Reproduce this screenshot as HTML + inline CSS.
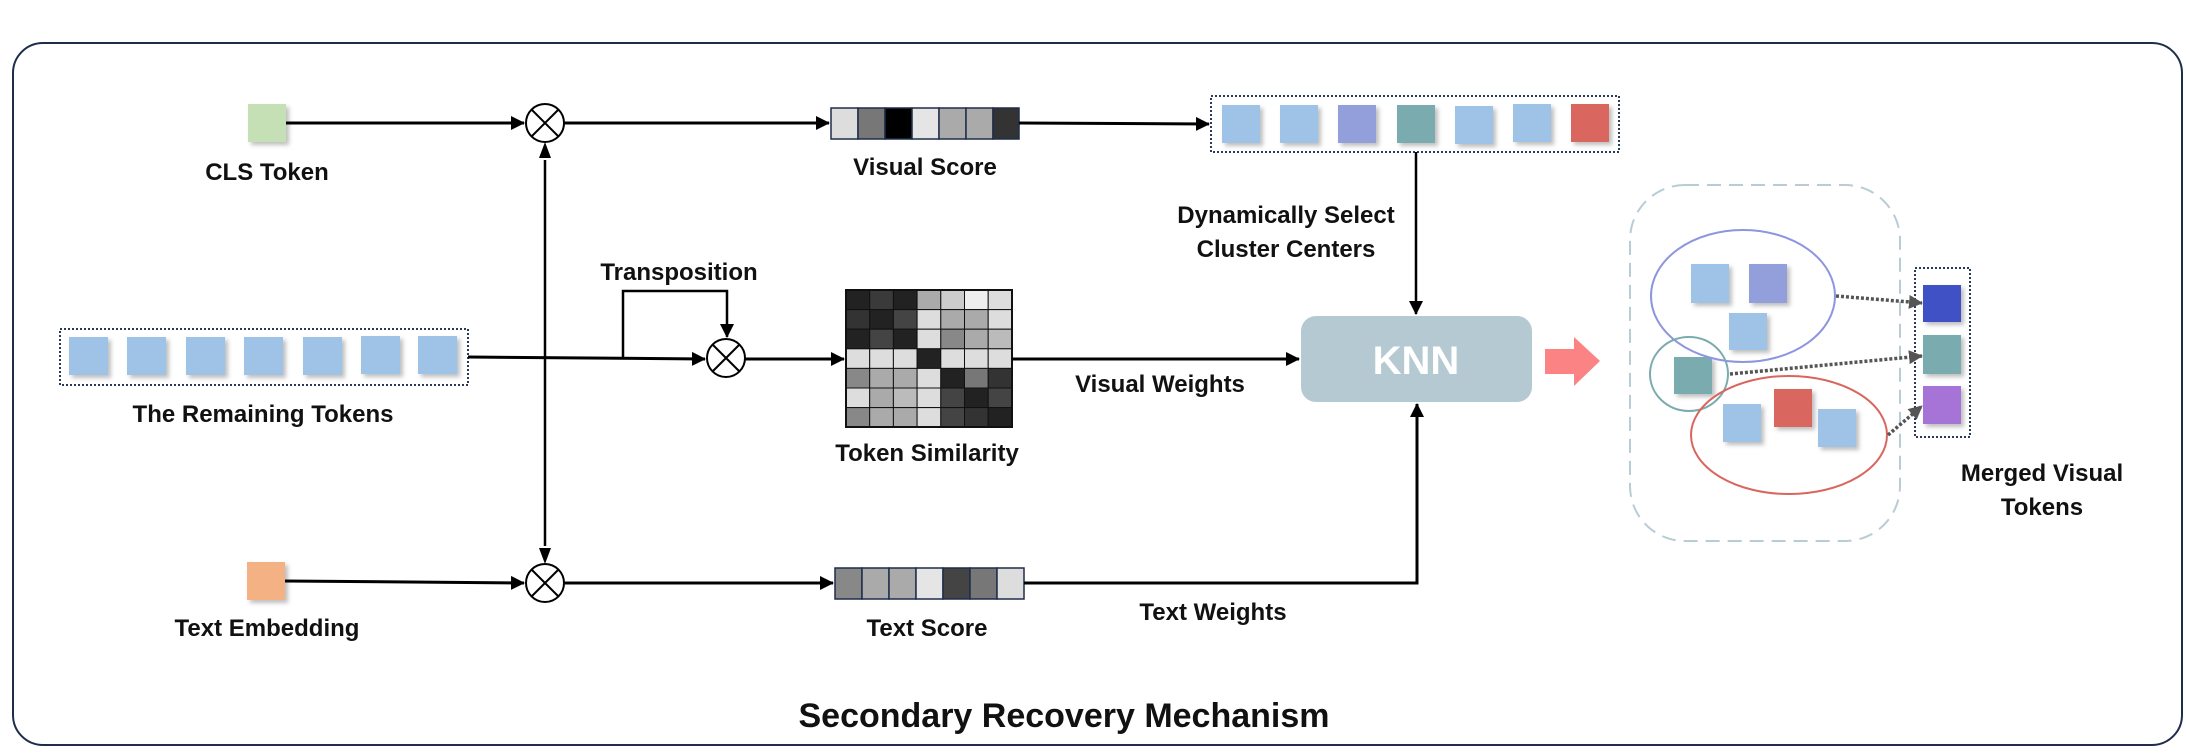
<!DOCTYPE html>
<html><head><meta charset="utf-8"><style>
html,body{margin:0;padding:0;background:#fff;}
svg{display:block;}
text{font-family:"Liberation Sans",sans-serif;font-weight:bold;fill:#111;}
</style></head><body>
<svg width="2186" height="754" viewBox="0 0 2186 754" xmlns="http://www.w3.org/2000/svg">
<defs>
<marker id="ah" markerWidth="10" markerHeight="10" refX="9" refY="5" orient="auto" markerUnits="userSpaceOnUse"><path d="M0,0 L10,5 L0,10 z" fill="#000"/></marker>
<marker id="ahb" markerWidth="14" markerHeight="14" refX="13" refY="7" orient="auto" markerUnits="userSpaceOnUse"><path d="M0,0 L14,7 L0,14 z" fill="#000"/></marker>
<marker id="ahg" markerWidth="14" markerHeight="14" refX="13" refY="7" orient="auto" markerUnits="userSpaceOnUse"><path d="M0,0 L14,7 L0,14 z" fill="#555"/></marker>
<filter id="sh" x="-30%" y="-30%" width="160%" height="160%"><feDropShadow dx="3" dy="3" stdDeviation="2" flood-color="#000" flood-opacity="0.25"/></filter>
</defs>

<rect x="13" y="43" width="2169" height="702" rx="30" fill="#fff" stroke="#1f2d4a" stroke-width="2"/>

<!-- CLS token -->
<rect x="248" y="104" width="38" height="38" fill="#c5e0b4" filter="url(#sh)"/>
<text x="267" y="180" font-size="24" text-anchor="middle">CLS Token</text>
<line x1="286" y1="123" x2="524" y2="123" stroke="#000" stroke-width="3" marker-end="url(#ahb)"/>
<!-- top circle -->
<circle cx="545" cy="123" r="19" fill="#fff" stroke="#000" stroke-width="2"/>
<path d="M532,110 L558,136 M558,110 L532,136" stroke="#000" stroke-width="2"/>
<line x1="564" y1="123" x2="829" y2="123" stroke="#000" stroke-width="3" marker-end="url(#ahb)"/>

<!-- vertical double arrow -->
<line x1="545" y1="160" x2="545" y2="546" stroke="#000" stroke-width="2.5"/>
<path d="M545,142 L539,158 L551,158 z M545,564 L539,548 L551,548 z" fill="#000"/>

<!-- visual score -->
<g stroke="#1f2d4a" stroke-width="1.5">
<rect x="831" y="108" width="27" height="31" fill="#dddddd"/>
<rect x="858" y="108" width="27" height="31" fill="#777"/>
<rect x="885" y="108" width="27" height="31" fill="#000"/>
<rect x="912" y="108" width="27" height="31" fill="#e5e5e5"/>
<rect x="939" y="108" width="27" height="31" fill="#aaa"/>
<rect x="966" y="108" width="27" height="31" fill="#aaa"/>
<rect x="993" y="108" width="26" height="31" fill="#333"/>
</g>
<text x="925" y="175" font-size="24" text-anchor="middle">Visual Score</text>
<line x1="1019" y1="123" x2="1209" y2="124" stroke="#000" stroke-width="3" marker-end="url(#ahb)"/>

<!-- selected tokens -->
<rect x="1211" y="96" width="408" height="56" fill="none" stroke="#2a3a5a" stroke-width="2" stroke-dasharray="2,2"/>
<g filter="url(#sh)">
<rect x="1222" y="105" width="38" height="38" fill="#9fc3e6"/>
<rect x="1280" y="105" width="38" height="38" fill="#9fc3e6"/>
<rect x="1338" y="105" width="38" height="38" fill="#939fdb"/>
<rect x="1397" y="105" width="38" height="38" fill="#7aabae"/>
<rect x="1455" y="106" width="38" height="38" fill="#9fc3e6"/>
<rect x="1513" y="104" width="38" height="38" fill="#9fc3e6"/>
<rect x="1571" y="104" width="38" height="38" fill="#d9665e"/>
</g>
<line x1="1416" y1="152" x2="1416" y2="314" stroke="#000" stroke-width="2.5" marker-end="url(#ahb)"/>
<text x="1286" y="223" font-size="24" text-anchor="middle">Dynamically Select</text>
<text x="1286" y="257" font-size="24" text-anchor="middle">Cluster Centers</text>

<!-- remaining tokens -->
<rect x="60" y="329" width="408" height="56" fill="none" stroke="#2a3a5a" stroke-width="2" stroke-dasharray="2,2"/>
<g filter="url(#sh)" fill="#9fc3e6">
<rect x="69" y="337" width="39" height="38"/>
<rect x="127" y="337" width="39" height="38"/>
<rect x="186" y="337" width="39" height="38"/>
<rect x="244" y="337" width="39" height="38"/>
<rect x="303" y="337" width="39" height="38"/>
<rect x="361" y="336" width="39" height="38"/>
<rect x="418" y="336" width="39" height="38"/>
</g>
<text x="263" y="422" font-size="24" text-anchor="middle">The Remaining Tokens</text>
<line x1="468" y1="357" x2="705" y2="359" stroke="#000" stroke-width="3" marker-end="url(#ahb)"/>
<polyline points="623,357 623,291 727,291 727,337" fill="none" stroke="#000" stroke-width="2.5" marker-end="url(#ahb)"/>
<text x="679" y="280" font-size="24" text-anchor="middle">Transposition</text>
<circle cx="726" cy="358" r="19" fill="#fff" stroke="#000" stroke-width="2"/>
<path d="M713,345 L739,371 M739,345 L713,371" stroke="#000" stroke-width="2"/>
<line x1="745" y1="359" x2="844" y2="359" stroke="#000" stroke-width="3" marker-end="url(#ahb)"/>

<!-- similarity matrix -->
<g stroke="#111" stroke-width="1">
<rect x="846" y="290" width="23.7" height="19.6" fill="#222"/><rect x="869.7" y="290" width="23.7" height="19.6" fill="#3a3a3a"/><rect x="893.4" y="290" width="23.7" height="19.6" fill="#222"/><rect x="917.1" y="290" width="23.7" height="19.6" fill="#aaa"/><rect x="940.8" y="290" width="23.7" height="19.6" fill="#ccc"/><rect x="964.5" y="290" width="23.7" height="19.6" fill="#eee"/><rect x="988.2" y="290" width="23.8" height="19.6" fill="#ddd"/>
<rect x="846" y="309.6" width="23.7" height="19.6" fill="#333"/><rect x="869.7" y="309.6" width="23.7" height="19.6" fill="#222"/><rect x="893.4" y="309.6" width="23.7" height="19.6" fill="#444"/><rect x="917.1" y="309.6" width="23.7" height="19.6" fill="#ddd"/><rect x="940.8" y="309.6" width="23.7" height="19.6" fill="#aaa"/><rect x="964.5" y="309.6" width="23.7" height="19.6" fill="#aaa"/><rect x="988.2" y="309.6" width="23.8" height="19.6" fill="#ddd"/>
<rect x="846" y="329.2" width="23.7" height="19.6" fill="#222"/><rect x="869.7" y="329.2" width="23.7" height="19.6" fill="#444"/><rect x="893.4" y="329.2" width="23.7" height="19.6" fill="#222"/><rect x="917.1" y="329.2" width="23.7" height="19.6" fill="#ddd"/><rect x="940.8" y="329.2" width="23.7" height="19.6" fill="#888"/><rect x="964.5" y="329.2" width="23.7" height="19.6" fill="#aaa"/><rect x="988.2" y="329.2" width="23.8" height="19.6" fill="#bbb"/>
<rect x="846" y="348.8" width="23.7" height="19.6" fill="#ddd"/><rect x="869.7" y="348.8" width="23.7" height="19.6" fill="#ddd"/><rect x="893.4" y="348.8" width="23.7" height="19.6" fill="#ddd"/><rect x="917.1" y="348.8" width="23.7" height="19.6" fill="#222"/><rect x="940.8" y="348.8" width="23.7" height="19.6" fill="#ddd"/><rect x="964.5" y="348.8" width="23.7" height="19.6" fill="#ddd"/><rect x="988.2" y="348.8" width="23.8" height="19.6" fill="#ddd"/>
<rect x="846" y="368.4" width="23.7" height="19.6" fill="#888"/><rect x="869.7" y="368.4" width="23.7" height="19.6" fill="#aaa"/><rect x="893.4" y="368.4" width="23.7" height="19.6" fill="#aaa"/><rect x="917.1" y="368.4" width="23.7" height="19.6" fill="#ddd"/><rect x="940.8" y="368.4" width="23.7" height="19.6" fill="#222"/><rect x="964.5" y="368.4" width="23.7" height="19.6" fill="#777"/><rect x="988.2" y="368.4" width="23.8" height="19.6" fill="#333"/>
<rect x="846" y="388" width="23.7" height="19.6" fill="#ddd"/><rect x="869.7" y="388" width="23.7" height="19.6" fill="#aaa"/><rect x="893.4" y="388" width="23.7" height="19.6" fill="#bbb"/><rect x="917.1" y="388" width="23.7" height="19.6" fill="#ddd"/><rect x="940.8" y="388" width="23.7" height="19.6" fill="#444"/><rect x="964.5" y="388" width="23.7" height="19.6" fill="#222"/><rect x="988.2" y="388" width="23.8" height="19.6" fill="#444"/>
<rect x="846" y="407.6" width="23.7" height="19.4" fill="#888"/><rect x="869.7" y="407.6" width="23.7" height="19.4" fill="#aaa"/><rect x="893.4" y="407.6" width="23.7" height="19.4" fill="#aaa"/><rect x="917.1" y="407.6" width="23.7" height="19.4" fill="#ddd"/><rect x="940.8" y="407.6" width="23.7" height="19.4" fill="#444"/><rect x="964.5" y="407.6" width="23.7" height="19.4" fill="#333"/><rect x="988.2" y="407.6" width="23.8" height="19.4" fill="#222"/>
</g>
<rect x="846" y="290" width="166" height="137" fill="none" stroke="#111" stroke-width="2"/>
<text x="927" y="461" font-size="24" text-anchor="middle">Token Similarity</text>
<line x1="1012" y1="359" x2="1299" y2="359" stroke="#000" stroke-width="3" marker-end="url(#ahb)"/>
<text x="1160" y="392" font-size="24" text-anchor="middle">Visual Weights</text>

<!-- KNN -->
<rect x="1301" y="316" width="231" height="86" rx="15" fill="#b4c9d2"/>
<text x="1416" y="374" font-size="40" text-anchor="middle" style="fill:#fff">KNN</text>
<path d="M1545,349 L1574,349 L1574,337 L1600,361 L1574,386 L1574,374 L1545,374 z" fill="#fb8383"/>

<!-- text embedding -->
<rect x="247" y="562" width="38" height="38" fill="#f4b183" filter="url(#sh)"/>
<text x="267" y="636" font-size="24" text-anchor="middle">Text Embedding</text>
<line x1="285" y1="581" x2="524" y2="583" stroke="#000" stroke-width="3" marker-end="url(#ahb)"/>
<circle cx="545" cy="583" r="19" fill="#fff" stroke="#000" stroke-width="2"/>
<path d="M532,570 L558,596 M558,570 L532,596" stroke="#000" stroke-width="2"/>
<line x1="564" y1="583" x2="833" y2="583" stroke="#000" stroke-width="3" marker-end="url(#ahb)"/>
<g stroke="#1f2d4a" stroke-width="1.5">
<rect x="835" y="568" width="27" height="31" fill="#888"/>
<rect x="862" y="568" width="27" height="31" fill="#aaa"/>
<rect x="889" y="568" width="27" height="31" fill="#aaa"/>
<rect x="916" y="568" width="27" height="31" fill="#e5e5e5"/>
<rect x="943" y="568" width="27" height="31" fill="#444"/>
<rect x="970" y="568" width="27" height="31" fill="#777"/>
<rect x="997" y="568" width="27" height="31" fill="#ddd"/>
</g>
<text x="927" y="636" font-size="24" text-anchor="middle">Text Score</text>
<polyline points="1024,583 1417,583 1417,404" fill="none" stroke="#000" stroke-width="3" marker-end="url(#ahb)"/>
<text x="1213" y="620" font-size="24" text-anchor="middle">Text Weights</text>

<!-- cluster region -->
<rect x="1630" y="185" width="270" height="356" rx="55" fill="none" stroke="#b8ccd6" stroke-width="2" stroke-dasharray="14,8"/>
<g filter="url(#sh)">
<rect x="1691" y="264" width="38" height="39" fill="#9fc3e6"/>
<rect x="1749" y="264" width="38" height="39" fill="#939fdb"/>
<rect x="1729" y="313" width="38" height="37" fill="#9fc3e6"/>
<rect x="1674" y="357" width="38" height="37" fill="#7aabae"/>
<rect x="1723" y="404" width="38" height="38" fill="#9fc3e6"/>
<rect x="1774" y="389" width="38" height="38" fill="#d9665e"/>
<rect x="1818" y="409" width="38" height="38" fill="#9fc3e6"/>
</g>
<ellipse cx="1743" cy="296" rx="92" ry="66" fill="none" stroke="#8e95e0" stroke-width="2"/>
<ellipse cx="1689" cy="374" rx="39" ry="37" fill="none" stroke="#7aabae" stroke-width="2"/>
<ellipse cx="1789" cy="435" rx="98" ry="59" fill="none" stroke="#d9665e" stroke-width="2"/>

<!-- merged -->
<rect x="1915" y="268" width="55" height="169" fill="none" stroke="#2a3a5a" stroke-width="2" stroke-dasharray="2,2"/>
<g filter="url(#sh)">
<rect x="1923" y="285" width="38" height="37" fill="#3f51c5"/>
<rect x="1923" y="335" width="38" height="39" fill="#7aabae"/>
<rect x="1923" y="386" width="38" height="38" fill="#a673d6"/>
</g>
<g stroke="#555" stroke-width="3.5" stroke-dasharray="3,2" fill="none">
<line x1="1836" y1="296" x2="1922" y2="303" marker-end="url(#ahg)"/>
<line x1="1730" y1="374" x2="1922" y2="356" marker-end="url(#ahg)"/>
<line x1="1888" y1="435" x2="1922" y2="406" marker-end="url(#ahg)"/>
</g>
<text x="2042" y="481" font-size="24" text-anchor="middle">Merged Visual</text>
<text x="2042" y="515" font-size="24" text-anchor="middle">Tokens</text>

<text x="1064" y="727" font-size="34" text-anchor="middle">Secondary Recovery Mechanism</text>
</svg>
</body></html>
